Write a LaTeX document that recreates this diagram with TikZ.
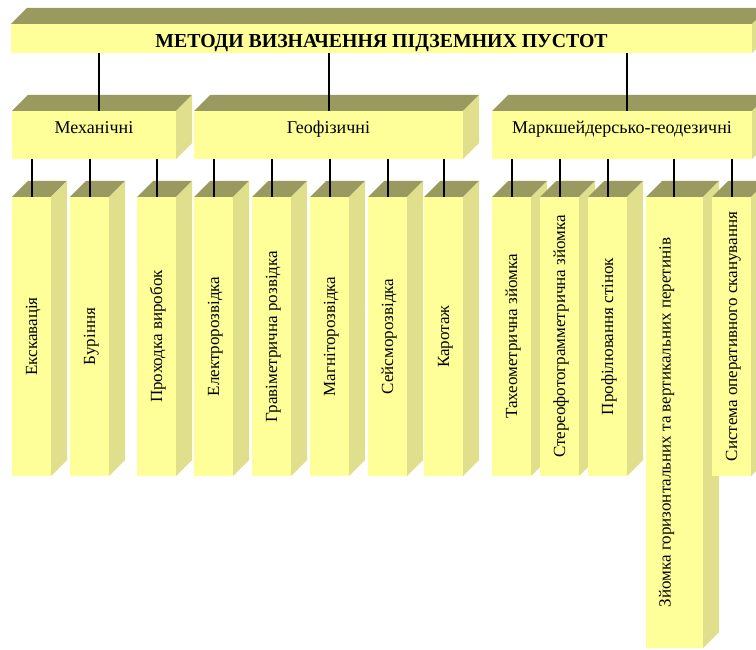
\documentclass[tikz,border=0pt]{standalone}
\usepackage{fontspec}
\setmainfont{Liberation Serif}
\definecolor{frontc}{RGB}{255,255,153}
\definecolor{topcol}{RGB}{153,153,96}
\definecolor{sidecol}{RGB}{224,224,140}
\tikzset{
  front/.style={fill=frontc, inner sep=0pt, outer sep=0pt, align=center},
  titlebox/.style={front, font=\fontsize{19.8}{22}\selectfont\bfseries, text height=19pt, text depth=0pt},
  groupbox/.style={front, font=\fontsize{18}{20}\selectfont, text height=6pt, text depth=9.5pt},
  leafbox/.style={front, font=\fontsize{17}{19}\selectfont},
  topface/.style={fill=topcol},
  sideface/.style={fill=sidecol},
  link/.style={draw=black, line width=2pt}
}
% #1 style, #2 name, #3 x1, #4 y1, #5 x2, #6 y2, #7 text
\newcommand{\drawblock}[7]{%
  \node[#1, minimum width={#5-#3}, minimum height={#6-#4}] (#2) at ({(#3+#5)/2},{(#4+#6)/2}) {#7};
  \fill[topface] (#2.north west) -- ++(16,-16) -- ([shift={(16,-16)}]#2.north east) -- (#2.north east) -- cycle;
  \fill[sideface] (#2.north east) -- ++(16,-16) -- ([shift={(16,-16)}]#2.south east) -- (#2.south east) -- cycle;
}
\newcommand{\vtext}[1]{\rotatebox{90}{\raisebox{0pt}[11pt][0pt]{#1}}}
\begin{document}
\begin{tikzpicture}[x=1pt,y=-1pt]
\useasboundingbox (0,0) rectangle (756,650);
\clip (0,0) rectangle (756,650);
% title
\drawblock{titlebox}{title}{11}{24}{752}{53}{МЕТОДИ ВИЗНАЧЕННЯ ПІДЗЕМНИХ ПУСТОТ}
% groups
\drawblock{groupbox}{mech}{12}{111}{176}{159}{Механічні}
\drawblock{groupbox}{geof}{194}{111}{463}{159}{Геофізичні}
\drawblock{groupbox}{mark}{492}{111}{752}{159}{Маркшейдерсько-геодезичні}
% leaves
\drawblock{leafbox}{l1}{12}{197}{51}{476}{\vtext{Екскавація}}
\drawblock{leafbox}{l2}{70}{197}{109}{476}{\vtext{Буріння}}
\drawblock{leafbox}{l3}{137}{197}{176}{476}{\vtext{Проходка виробок}}
\drawblock{leafbox}{l4}{194}{197}{233}{476}{\vtext{Електророзвідка}}
\drawblock{leafbox}{l5}{252}{197}{291}{476}{\vtext{Гравіметрична розвідка}}
\drawblock{leafbox}{l6}{310}{197}{349}{476}{\vtext{Магніторозвідка}}
\drawblock{leafbox}{l7}{368}{197}{407}{476}{\vtext{Сейсморозвідка}}
\drawblock{leafbox}{l8}{424}{197}{463}{476}{\vtext{Каротаж}}
\drawblock{leafbox}{l9}{492}{197}{531}{476}{\vtext{Тахеометрична зйомка}}
\drawblock{leafbox}{l10}{540}{197}{579}{476}{\vtext{Стереофотограмметрична зйомка}}
\drawblock{leafbox}{l11}{588}{197}{627}{476}{\vtext{Профілювання стінок}}
\drawblock{leafbox}{l12}{646}{197}{703}{648}{\rotatebox{90}{\raisebox{0pt}[11pt][19pt]{Зйомка горизонтальних та вертикальних перетинів}}}
\drawblock{leafbox}{l13}{712}{197}{751}{476}{\vtext{Система оперативного сканування}}
% connectors title -> groups
\draw[link] ([xshift=5pt]mech.north) -- ([xshift=5pt]mech.north |- title.south);
\draw[link] ([xshift=0.5pt]geof.north) -- ([xshift=0.5pt]geof.north |- title.south);
\draw[link] ([xshift=5pt]mark.north) -- ([xshift=5pt]mark.north |- title.south);
% connectors groups -> leaves
\foreach \g/\lf in {mech/l1,mech/l2,mech/l3,geof/l4,geof/l5,geof/l6,geof/l7,geof/l8,mark/l9,mark/l10,mark/l11,mark/l13}
  \draw[link] ([xshift=0.5pt]\lf.north) -- ([xshift=0.5pt]\lf.north |- \g.south);
\draw[link] ([xshift=-0.5pt]l12.north) -- ([xshift=-0.5pt]l12.north |- mark.south);
\end{tikzpicture}
\end{document}
